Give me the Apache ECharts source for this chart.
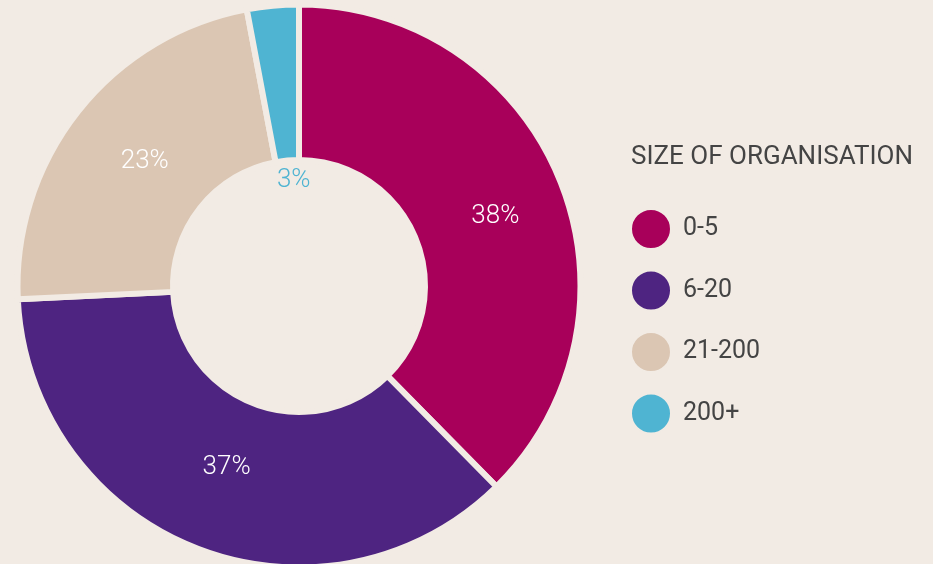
<!DOCTYPE html>
<html>
<head>
<meta charset="utf-8">
<script src="https://cdn.jsdelivr.net/npm/echarts@6/dist/echarts.min.js"></script>
<style>
    html, body { margin: 0; padding: 0; background: #f2ebe4; }
    #main { width: 933px; height: 564px; }
</style>
</head>
<body>
<div id="main"></div>
<script>
var categories = ['0-5', '6-20', '21-200', '200+'];
var shares = [38, 37, 23, 3];
var colors = ['#a8005a', '#4e2481', '#dbc6b3', '#4fb4d2'];
var legendTitle = 'SIZE OF ORGANISATION';

var bgColor = '#f2ebe4';
// small nudges so the labels sit where the original put them
var labelNudge = {
    '0-5': [5, 9],
    '6-20': [3, -11],
    '21-200': [8, 4],
    '200+': [14, 100]
};

var pieData = [];
for (var i = 0; i < categories.length; i++) {
    var item = {
        name: categories[i],
        value: shares[i],
        itemStyle: { color: colors[i] },
        label: { offset: labelNudge[categories[i]] }
    };
    // the small slice has its label in the hole, in its own colour
    if (categories[i] == '200+') {
        item.label.color = colors[i];
    }
    pieData.push(item);
}

var myChart = echarts.init(document.getElementById('main'));

var option = {
    backgroundColor: bgColor,
    animation: false,
    title: {
        text: legendTitle,
        left: 626,
        top: 139,
        textStyle: {
            fontFamily: 'Roboto',
            fontSize: 26,
            fontWeight: 'normal',
            color: '#444444'
        }
    },
    legend: {
        orient: 'vertical',
        left: 630,
        top: 208,
        padding: 0,
        itemWidth: 40,
        itemHeight: 40,
        itemGap: 19.5,
        icon: 'circle',
        selectedMode: false,
        data: categories,
        textStyle: {
            fontFamily: 'Roboto',
            fontSize: 25,
            color: '#444444',
            padding: [0, 0, 0, 7]
        }
    },
    series: [
        {
            type: 'pie',
            center: [299, 286],
            radius: [126, 281.5],
            startAngle: 90,
            avoidLabelOverlap: false,
            emphasis: { disabled: true },
            itemStyle: {
                borderColor: bgColor,
                borderWidth: 6
            },
            label: {
                show: true,
                position: 'inside',
                formatter: '{c}%',
                fontFamily: 'Roboto',
                fontWeight: 300,
                fontSize: 26,
                color: '#ffffff'
            },
            labelLine: { show: false },
            data: pieData
        }
    ]
};
myChart.setOption(option, true);
</script>
</body>
</html>
